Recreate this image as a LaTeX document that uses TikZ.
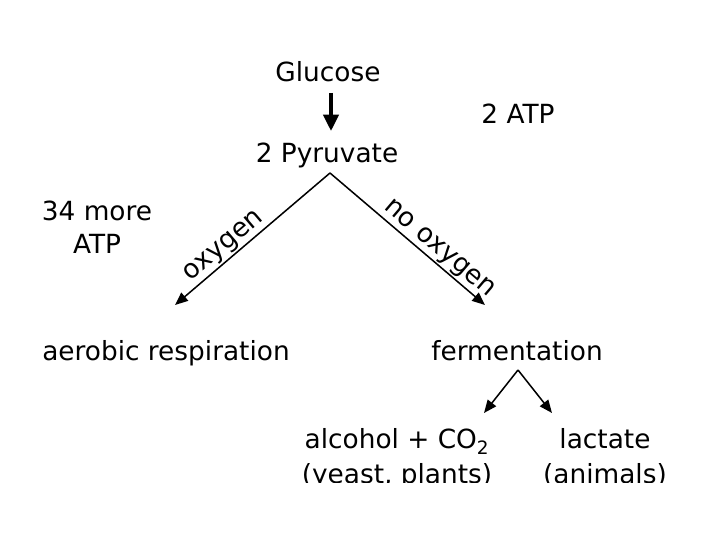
\documentclass[tikz,border=0pt]{standalone}
\usepackage{fontspec}
\setmainfont{DejaVu Sans}
\usetikzlibrary{arrows.meta}
\tikzset{
  lbl/.style={font=\fontsize{22.5}{27}\selectfont, inner sep=0pt, anchor=base},
  tag/.style={font=\fontsize{22.5}{27}\selectfont, inner sep=1pt, sloped, above},
  bigarr/.style={-{Triangle[length=14pt,width=13pt]}, line width=3pt},
  arr/.style={-{Triangle[length=11pt,width=9pt]}, line width=1.3pt},
}
\begin{document}
\begin{tikzpicture}[x=0.03cm,y=-0.03cm]
  \useasboundingbox (0,0) rectangle (720,540);
  \begin{scope}
  \clip (0,0) rectangle (720,482);
  % glycolysis
  \node[lbl] (glucose) at (328,82) {Glucose};
  \node[lbl] (pyruvate) at (327,163) {2 Pyruvate};
  \node[lbl] (atp) at (518,124) {2 ATP};
  \coordinate (gtop) at (331,93);
  \coordinate (gbot) at (331,131);
  \draw[bigarr] (gtop) -- (gbot);
  % two pathways
  \coordinate (apex) at (330,173);
  \coordinate (aertip) at (175,305);
  \coordinate (fertip) at (485,305);
  \draw[arr] (apex) -- node[tag, pos=0.63] {oxygen} (aertip);
  \draw[arr] (apex) -- node[tag, pos=0.65] {no oxygen} (fertip);
  \node[lbl] (more) at (97,221) {34 more};
  \node[lbl] (moreatp) at (97,254) {ATP};
  \node[lbl] (aerobic) at (166,361) {aerobic respiration};
  \node[lbl] (ferment) at (517,361) {fermentation};
  % products of fermentation
  \coordinate (fapex) at (518,370);
  \coordinate (alctip) at (484,413);
  \coordinate (lactip) at (552,413);
  \draw[arr] (fapex) -- (alctip);
  \draw[arr] (fapex) -- (lactip);
  \node[lbl] (alcohol) at (397,449) {alcohol + CO\textsubscript{2}};
  \node[lbl] (yeast) at (397,483) {(yeast, plants)};
  \node[lbl] (lactate) at (605,449) {lactate};
  \node[lbl] (animals) at (605,483) {(animals)};
  \end{scope}
\end{tikzpicture}
\end{document}
